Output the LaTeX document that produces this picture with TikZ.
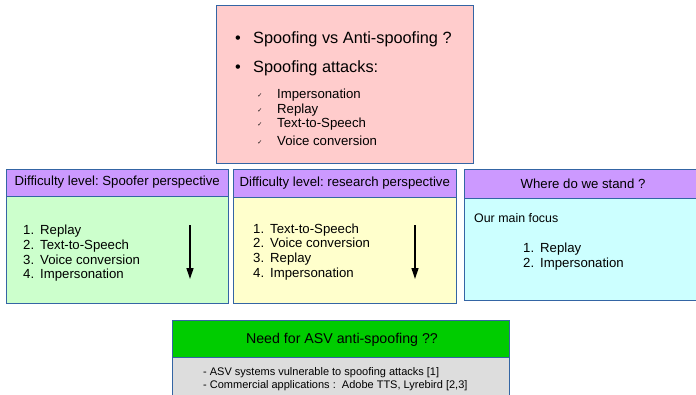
\documentclass[tikz,border=0pt]{standalone}
\usepackage{fontspec}
\setmainfont{Liberation Sans}
\newfontfamily\dejavu{DejaVu Sans}
\usetikzlibrary{arrows.meta}
\definecolor{bord}{RGB}{52,101,164}
\definecolor{pinkc}{RGB}{255,204,204}
\definecolor{purpc}{RGB}{204,153,255}
\definecolor{greenc}{RGB}{204,255,204}
\definecolor{yellc}{RGB}{255,255,204}
\definecolor{cyanc}{RGB}{204,255,255}
\definecolor{hgreen}{RGB}{0,204,0}
\definecolor{grayc}{RGB}{221,221,221}
\newcommand{\itm}[2]{\makebox[17pt][l]{#1}#2}
\frenchspacing
\begin{document}
\begin{tikzpicture}[x=1pt,y=-1pt,
  box/.style={draw=bord, line width=1pt, inner sep=0pt, rectangle},
  hdr/.style={inner sep=0pt, font=\fontsize{13.2}{15}\selectfont},
  big/.style={anchor=base west, inner sep=0pt, font=\fontsize{16.3}{19}\selectfont},
  lst/.style={anchor=base west, inner sep=0pt, font=\fontsize{13.2}{15}\selectfont},
  sml/.style={anchor=base west, inner sep=0pt, font=\fontsize{11}{13}\selectfont},
  chk/.style={anchor=base, inner sep=0pt, font=\dejavu\fontsize{6}{7}\selectfont},
  arr/.style={line width=1.3pt, -{Triangle[length=11pt,width=7pt]}}]
\useasboundingbox (0,0) rectangle (696,394);

% top box
\node[box, fill=pinkc, minimum width=257pt, minimum height=158pt] (topbox) at (344.5,84) {};
\node[anchor=base, inner sep=0pt, font=\fontsize{16.3}{19}\selectfont] (tb1) at (238,43.5) {•};
\node[big] (t1) at (253,43.5) {Spoofing vs Anti-spoofing ?};
\node[anchor=base, inner sep=0pt, font=\fontsize{16.3}{19}\selectfont] (tb2) at (238,72) {•};
\node[big] (t2) at (253,72) {Spoofing attacks:};
\node[chk] (c1) at (260,97) {✓};
\node[lst] (s1) at (277,98) {Impersonation};
\node[chk] (c2) at (260,112) {✓};
\node[lst] (s2) at (277,113) {Replay};
\node[chk] (c3) at (260,126) {✓};
\node[lst] (s3) at (277,127) {Text-to-Speech};
\node[chk] (c4) at (260,144) {✓};
\node[lst] (s4) at (277,145) {Voice conversion};

% left box
\node[box, fill=greenc, minimum width=221.5pt, minimum height=107pt] (lbody) at (117.25,249.5) {};
\node[box, fill=purpc, minimum width=221.5pt, minimum height=27pt] (lhead) at (117.25,182.5) {};
\node[hdr] (lht) at (lhead.center) {Difficulty level: Spoofer perspective};
\node[lst] (l1) at (23,234.5) {\itm{1.}{Replay}};
\node[lst] (l2) at (23,249.3) {\itm{2.}{Text-to-Speech}};
\node[lst] (l3) at (23,264.1) {\itm{3.}{Voice conversion}};
\node[lst] (l4) at (23,278.9) {\itm{4.}{Impersonation}};
\coordinate (la1) at (190,225);
\coordinate (la2) at (190,279);
\draw[arr] (la1) -- (la2);

% middle box
\node[box, fill=yellc, minimum width=222.5pt, minimum height=106pt] (mbody) at (344.75,250) {};
\node[box, fill=purpc, minimum width=222.5pt, minimum height=28pt] (mhead) at (344.75,183) {};
\node[hdr] (mht) at (mhead.center) {Difficulty level: research perspective};
\node[lst] (m1) at (253,233) {\itm{1.}{Text-to-Speech}};
\node[lst] (m2) at (253,247.8) {\itm{2.}{Voice conversion}};
\node[lst] (m3) at (253,262.6) {\itm{3.}{Replay}};
\node[lst] (m4) at (253,277.4) {\itm{4.}{Impersonation}};
\coordinate (ma1) at (415,225);
\coordinate (ma2) at (415,279);
\draw[arr] (ma1) -- (ma2);

% right box
\node[box, fill=cyanc, minimum width=240pt, minimum height=102pt] (rbody) at (584,249) {};
\node[box, fill=purpc, minimum width=240pt, minimum height=29pt] (rhead) at (584,183.5) {};
\node[hdr] (rht) at (583,184) {Where do we stand ?};
\node[anchor=base west, inner sep=0pt, font=\fontsize{12.4}{14}\selectfont] (rf) at (474,222.5) {Our main focus};
\node[lst] (r1) at (523,252.5) {\itm{1.}{Replay}};
\node[lst] (r2) at (523,267) {\itm{2.}{Impersonation}};

% bottom box
\node[box, fill=grayc, minimum width=337.5pt, minimum height=48pt] (bbody) at (340.75,381) {};
\node[box, fill=hgreen, minimum width=337.5pt, minimum height=37pt] (bhead) at (340.75,338.5) {};
\node[inner sep=0pt, font=\fontsize{14.2}{17}\selectfont] (bht) at (342,339.5) {Need for ASV anti-spoofing ??};
\node[sml] (b1) at (203,375) {- ASV systems vulnerable to spoofing attacks [1]};
\node[sml] (b2) at (203,388) {- Commercial applications :\ \ Adobe TTS, Lyrebird [2,3]};
\end{tikzpicture}
\end{document}
